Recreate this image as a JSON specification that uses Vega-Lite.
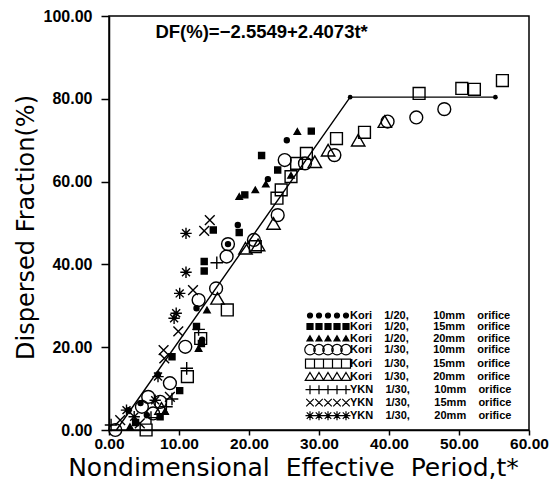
{
  "$schema": "https://vega.github.io/schema/vega-lite/v6.json",
  "width": 420,
  "height": 414,
  "autosize": {"type": "none"},
  "padding": {"left": 109, "top": 16, "right": 20, "bottom": 51},
  "background": "white",
  "config": {
    "view": {"stroke": "black", "strokeWidth": 1.5},
    "axis": {
      "domainColor": "black", "domainWidth": 1.5, "tickColor": "black", "tickWidth": 1.5,
      "grid": false, "labelFont": "Liberation Sans", "labelFontWeight": "bold", "labelFontSize": 16,
      "labelColor": "black", "titleFont": "DejaVu Sans", "titleFontWeight": "normal", "titleColor": "black",
      "labelOverlap": false
    },
    "legend": {
      "orient": "none", "legendX": 231, "legendY": 293.5, "padding": 0,
      "symbolSize": 100, "symbolStrokeWidth": 1.2, "symbolStrokeColor": "black", "symbolOpacity": 1,
      "labelFont": "Liberation Sans", "labelFontWeight": "bold", "labelFontSize": 11,
      "labelColor": "black", "labelLimit": 400, "labelOffset": -2, "rowPadding": -1.8
    }
  },
  "datasets": {
    "pts": [
      {"s": "Kori 1/20, 10mm orifice", "t": 25.4, "df": 70.0},
      {"s": "Kori 1/20, 10mm orifice", "t": 22.7, "df": 60.6},
      {"s": "Kori 1/20, 10mm orifice", "t": 18.4, "df": 49.5},
      {"s": "Kori 1/20, 10mm orifice", "t": 17.0, "df": 44.9},
      {"s": "Kori 1/20, 10mm orifice", "t": 12.5, "df": 29.4},
      {"s": "Kori 1/20, 10mm orifice", "t": 13.3, "df": 21.8},
      {"s": "Kori 1/20, 10mm orifice", "t": 7.0, "df": 13.4},
      {"s": "Kori 1/20, 10mm orifice", "t": 5.4, "df": 3.6},
      {"s": "Kori 1/20, 10mm orifice", "t": 2.8, "df": 4.8},
      {"s": "Kori 1/20, 10mm orifice", "t": 4.5, "df": 6.5},
      {"s": "Kori 1/20, 15mm orifice", "t": 21.8, "df": 66.3},
      {"s": "Kori 1/20, 15mm orifice", "t": 28.9, "df": 72.2},
      {"s": "Kori 1/20, 15mm orifice", "t": 24.1, "df": 62.8},
      {"s": "Kori 1/20, 15mm orifice", "t": 19.4, "df": 56.8},
      {"s": "Kori 1/20, 15mm orifice", "t": 14.9, "df": 48.3},
      {"s": "Kori 1/20, 15mm orifice", "t": 18.6, "df": 47.7},
      {"s": "Kori 1/20, 15mm orifice", "t": 13.6, "df": 40.7},
      {"s": "Kori 1/20, 15mm orifice", "t": 13.6, "df": 38.4},
      {"s": "Kori 1/20, 15mm orifice", "t": 12.5, "df": 25.0},
      {"s": "Kori 1/20, 15mm orifice", "t": 13.2, "df": 20.9},
      {"s": "Kori 1/20, 15mm orifice", "t": 9.0, "df": 17.7},
      {"s": "Kori 1/20, 15mm orifice", "t": 10.1, "df": 9.5},
      {"s": "Kori 1/20, 15mm orifice", "t": 7.3, "df": 3.2},
      {"s": "Kori 1/20, 15mm orifice", "t": 3.8, "df": 1.8},
      {"s": "Kori 1/20, 20mm orifice", "t": 26.9, "df": 72.1},
      {"s": "Kori 1/20, 20mm orifice", "t": 22.4, "df": 59.4},
      {"s": "Kori 1/20, 20mm orifice", "t": 20.9, "df": 58.0},
      {"s": "Kori 1/20, 20mm orifice", "t": 18.6, "df": 56.4},
      {"s": "Kori 1/20, 20mm orifice", "t": 26.0, "df": 61.5},
      {"s": "Kori 1/20, 20mm orifice", "t": 14.0, "df": 29.0},
      {"s": "Kori 1/20, 20mm orifice", "t": 12.8, "df": 19.7},
      {"s": "Kori 1/20, 20mm orifice", "t": 3.0, "df": 0.8},
      {"s": "Kori 1/20, 20mm orifice", "t": 8.0, "df": 4.5},
      {"s": "Kori 1/30, 10mm orifice", "t": 25.1, "df": 65.2},
      {"s": "Kori 1/30, 10mm orifice", "t": 28.0, "df": 64.4},
      {"s": "Kori 1/30, 10mm orifice", "t": 32.2, "df": 66.4},
      {"s": "Kori 1/30, 10mm orifice", "t": 39.8, "df": 74.5},
      {"s": "Kori 1/30, 10mm orifice", "t": 43.9, "df": 75.5},
      {"s": "Kori 1/30, 10mm orifice", "t": 47.9, "df": 77.5},
      {"s": "Kori 1/30, 10mm orifice", "t": 24.1, "df": 51.9},
      {"s": "Kori 1/30, 10mm orifice", "t": 20.7, "df": 45.9},
      {"s": "Kori 1/30, 10mm orifice", "t": 17.0, "df": 44.9},
      {"s": "Kori 1/30, 10mm orifice", "t": 16.8, "df": 41.9},
      {"s": "Kori 1/30, 10mm orifice", "t": 15.3, "df": 34.2},
      {"s": "Kori 1/30, 10mm orifice", "t": 12.8, "df": 31.4},
      {"s": "Kori 1/30, 10mm orifice", "t": 10.9, "df": 20.1},
      {"s": "Kori 1/30, 10mm orifice", "t": 8.7, "df": 11.3},
      {"s": "Kori 1/30, 10mm orifice", "t": 5.6, "df": 8.0},
      {"s": "Kori 1/30, 10mm orifice", "t": 4.7, "df": 5.6},
      {"s": "Kori 1/30, 10mm orifice", "t": 7.3, "df": 6.8},
      {"s": "Kori 1/30, 10mm orifice", "t": 6.3, "df": 4.0},
      {"s": "Kori 1/30, 10mm orifice", "t": 0.9, "df": 0.0},
      {"s": "Kori 1/30, 15mm orifice", "t": 26.8, "df": 64.4},
      {"s": "Kori 1/30, 15mm orifice", "t": 28.2, "df": 66.8},
      {"s": "Kori 1/30, 15mm orifice", "t": 32.5, "df": 70.4},
      {"s": "Kori 1/30, 15mm orifice", "t": 36.5, "df": 71.9},
      {"s": "Kori 1/30, 15mm orifice", "t": 44.3, "df": 81.3},
      {"s": "Kori 1/30, 15mm orifice", "t": 50.4, "df": 82.5},
      {"s": "Kori 1/30, 15mm orifice", "t": 52.2, "df": 82.3},
      {"s": "Kori 1/30, 15mm orifice", "t": 56.2, "df": 84.4},
      {"s": "Kori 1/30, 15mm orifice", "t": 26.0, "df": 61.2},
      {"s": "Kori 1/30, 15mm orifice", "t": 24.6, "df": 58.0},
      {"s": "Kori 1/30, 15mm orifice", "t": 24.0, "df": 56.0},
      {"s": "Kori 1/30, 15mm orifice", "t": 20.9, "df": 44.3},
      {"s": "Kori 1/30, 15mm orifice", "t": 16.9, "df": 29.0},
      {"s": "Kori 1/30, 15mm orifice", "t": 13.1, "df": 22.1},
      {"s": "Kori 1/30, 15mm orifice", "t": 11.2, "df": 12.9},
      {"s": "Kori 1/30, 15mm orifice", "t": 5.3, "df": 0.0},
      {"s": "Kori 1/30, 20mm orifice", "t": 29.4, "df": 64.8},
      {"s": "Kori 1/30, 20mm orifice", "t": 31.3, "df": 67.6},
      {"s": "Kori 1/30, 20mm orifice", "t": 35.6, "df": 70.0},
      {"s": "Kori 1/30, 20mm orifice", "t": 39.4, "df": 74.5},
      {"s": "Kori 1/30, 20mm orifice", "t": 23.5, "df": 49.9},
      {"s": "Kori 1/30, 20mm orifice", "t": 21.3, "df": 44.7},
      {"s": "Kori 1/30, 20mm orifice", "t": 19.5, "df": 43.9},
      {"s": "Kori 1/30, 20mm orifice", "t": 15.5, "df": 31.8},
      {"s": "Kori 1/30, 20mm orifice", "t": 7.5, "df": 5.2},
      {"s": "YKN 1/30, 10mm orifice", "t": 15.4, "df": 40.4},
      {"s": "YKN 1/30, 10mm orifice", "t": 12.8, "df": 24.3},
      {"s": "YKN 1/30, 10mm orifice", "t": 11.1, "df": 14.9},
      {"s": "YKN 1/30, 10mm orifice", "t": 0.3, "df": 1.2},
      {"s": "YKN 1/30, 10mm orifice", "t": 8.2, "df": 5.6},
      {"s": "YKN 1/30, 10mm orifice", "t": 6.0, "df": 3.0},
      {"s": "YKN 1/30, 10mm orifice", "t": 9.0, "df": 7.5},
      {"s": "YKN 1/30, 15mm orifice", "t": 14.4, "df": 50.7},
      {"s": "YKN 1/30, 15mm orifice", "t": 13.6, "df": 48.1},
      {"s": "YKN 1/30, 15mm orifice", "t": 12.0, "df": 33.8},
      {"s": "YKN 1/30, 15mm orifice", "t": 9.9, "df": 23.8},
      {"s": "YKN 1/30, 15mm orifice", "t": 7.8, "df": 19.3},
      {"s": "YKN 1/30, 15mm orifice", "t": 7.9, "df": 17.3},
      {"s": "YKN 1/30, 15mm orifice", "t": 1.6, "df": 2.4},
      {"s": "YKN 1/30, 15mm orifice", "t": 4.4, "df": 1.6},
      {"s": "YKN 1/30, 15mm orifice", "t": 8.7, "df": 8.0},
      {"s": "YKN 1/30, 20mm orifice", "t": 11.0, "df": 47.5},
      {"s": "YKN 1/30, 20mm orifice", "t": 11.0, "df": 38.1},
      {"s": "YKN 1/30, 20mm orifice", "t": 10.1, "df": 33.0},
      {"s": "YKN 1/30, 20mm orifice", "t": 9.6, "df": 28.2},
      {"s": "YKN 1/30, 20mm orifice", "t": 9.3, "df": 27.0},
      {"s": "YKN 1/30, 20mm orifice", "t": 7.0, "df": 12.9},
      {"s": "YKN 1/30, 20mm orifice", "t": 2.5, "df": 4.8},
      {"s": "YKN 1/30, 20mm orifice", "t": 6.6, "df": 7.2},
      {"s": "YKN 1/30, 20mm orifice", "t": 3.6, "df": 3.2}
    ],
    "fit": [
      {"t": 1.06, "df": 0},
      {"t": 34.45, "df": 80.4},
      {"t": 55.2, "df": 80.4}
    ],
    "ends": [
      {"t": 34.45, "df": 80.4},
      {"t": 55.2, "df": 80.4}
    ],
    "eq": [
      {"t": 21.8, "df": 94.7, "label": "DF(%)=−2.5549+2.4073t*"}
    ]
  },
  "layer": [
    {
      "data": {"name": "fit"},
      "mark": {"type": "line", "color": "black", "strokeWidth": 1.4},
      "encoding": {
        "x": {
          "field": "t", "type": "quantitative",
          "scale": {"domain": [0, 60], "nice": false, "zero": false},
          "axis": {
            "values": [0, 10, 20, 30, 40, 50, 60], "format": ".2f", "tickSize": 5, "labelPadding": 1,
            "labelFlush": false, "labelFontSize": 15.5,
            "title": "Nondimensional\u00a0\u00a0Effective\u00a0\u00a0Period,t*", "titleFontSize": 25,
            "titleX": 184, "titleY": 45, "titleBaseline": "alphabetic", "titleAlign": "center"
          }
        },
        "y": {
          "field": "df", "type": "quantitative",
          "scale": {"domain": [0, 100], "nice": false, "zero": false},
          "axis": {
            "values": [0, 20, 40, 60, 80, 100], "format": ".2f", "tickSize": 8, "labelPadding": 9,
            "title": "Dispersed Fraction(%)", "titleFontSize": 24, "titleAngle": -90,
            "titleX": -76, "titleY": 211, "titleBaseline": "alphabetic", "titleAlign": "center"
          }
        }
      }
    },
    {
      "data": {"name": "ends"},
      "mark": {"type": "point", "filled": true, "color": "black", "size": 22, "opacity": 1},
      "encoding": {
        "x": {"field": "t", "type": "quantitative"},
        "y": {"field": "df", "type": "quantitative"}
      }
    },
    {
      "data": {"name": "pts"},
      "mark": {"type": "point", "stroke": "black", "strokeWidth": 1.4, "opacity": 1},
      "encoding": {
        "x": {"field": "t", "type": "quantitative"},
        "y": {"field": "df", "type": "quantitative"},
        "shape": {
          "condition": [
            {"test": "datum.s === 'Kori 1/20, 10mm orifice' || datum.s === 'Kori 1/30, 10mm orifice'", "value": "circle"},
            {"test": "datum.s === 'Kori 1/20, 15mm orifice' || datum.s === 'Kori 1/30, 15mm orifice'", "value": "square"},
            {"test": "datum.s === 'Kori 1/20, 20mm orifice' || datum.s === 'Kori 1/30, 20mm orifice'", "value": "triangle-up"},
            {"test": "datum.s === 'YKN 1/30, 10mm orifice'", "value": "M-1,0L1,0M0,-1L0,1"},
            {"test": "datum.s === 'YKN 1/30, 15mm orifice'", "value": "M-1,-1L1,1M-1,1L1,-1"}
          ],
          "value": "M0,-1L0,1M-1,0L1,0M-0.7,-0.7L0.7,0.7M-0.7,0.7L0.7,-0.7"
        },
        "fill": {
          "condition": {"test": "datum.s === 'Kori 1/20, 10mm orifice' || datum.s === 'Kori 1/20, 15mm orifice' || datum.s === 'Kori 1/20, 20mm orifice'", "value": "black"},
          "value": "transparent"
        },
        "size": {
          "condition": [
            {"test": "datum.s === 'Kori 1/20, 10mm orifice'", "value": 25},
            {"test": "datum.s === 'Kori 1/20, 15mm orifice'", "value": 36},
            {"test": "datum.s === 'Kori 1/20, 20mm orifice'", "value": 40},
            {"test": "datum.s === 'Kori 1/30, 10mm orifice'", "value": 165},
            {"test": "datum.s === 'Kori 1/30, 15mm orifice'", "value": 140},
            {"test": "datum.s === 'Kori 1/30, 20mm orifice'", "value": 180},
            {"test": "datum.s === 'YKN 1/30, 10mm orifice'", "value": 160},
            {"test": "datum.s === 'YKN 1/30, 15mm orifice'", "value": 95}
          ],
          "value": 130
        }
      }
    },
    {
      "data": {"name": "pts"},
      "transform": [{"filter": "false"}],
      "mark": {"type": "point", "strokeWidth": 1.2, "opacity": 1},
      "encoding": {
        "x": {"field": "t", "type": "quantitative"},
        "y": {"field": "df", "type": "quantitative"},
        "shape": {
          "field": "s", "type": "nominal",
          "scale": {
            "domain": ["Kori 1/20, 10mm orifice", "Kori 1/20, 15mm orifice", "Kori 1/20, 20mm orifice", "Kori 1/30, 10mm orifice", "Kori 1/30, 15mm orifice", "Kori 1/30, 20mm orifice", "YKN 1/30, 10mm orifice", "YKN 1/30, 15mm orifice", "YKN 1/30, 20mm orifice"],
            "range": [
              "M0.5,0A0.5,0.5,0,1,1,-0.5,0A0.5,0.5,0,1,1,0.5,0ZM-1.3,0A0.5,0.5,0,1,1,-2.3,0A0.5,0.5,0,1,1,-1.3,0ZM-3.1,0A0.5,0.5,0,1,1,-4.1,0A0.5,0.5,0,1,1,-3.1,0ZM-4.9,0A0.5,0.5,0,1,1,-5.9,0A0.5,0.5,0,1,1,-4.9,0ZM-6.7,0A0.5,0.5,0,1,1,-7.7,0A0.5,0.5,0,1,1,-6.7,0Z",
              "M-0.6,-0.6h1.2v1.2h-1.2ZM-2.4,-0.6h1.2v1.2h-1.2ZM-4.2,-0.6h1.2v1.2h-1.2ZM-6,-0.6h1.2v1.2h-1.2ZM-7.8,-0.6h1.2v1.2h-1.2Z",
              "M0,-0.55L0.6,0.5L-0.6,0.5ZM-1.8,-0.55L-1.2,0.5L-2.4,0.5ZM-3.6,-0.55L-3,0.5L-4.2,0.5ZM-5.4,-0.55L-4.8,0.5L-6,0.5ZM-7.2,-0.55L-6.6,0.5L-7.8,0.5Z",
              "M1.05,0A1.05,1.05,0,1,1,-1.05,0A1.05,1.05,0,1,1,1.05,0ZM-0.75,0A1.05,1.05,0,1,1,-2.85,0A1.05,1.05,0,1,1,-0.75,0ZM-2.55,0A1.05,1.05,0,1,1,-4.65,0A1.05,1.05,0,1,1,-2.55,0ZM-4.35,0A1.05,1.05,0,1,1,-6.45,0A1.05,1.05,0,1,1,-4.35,0ZM-6.15,0A1.05,1.05,0,1,1,-8.25,0A1.05,1.05,0,1,1,-6.15,0Z",
              "M-0.9,-0.9h1.8v1.8h-1.8ZM-2.7,-0.9h1.8v1.8h-1.8ZM-4.5,-0.9h1.8v1.8h-1.8ZM-6.3,-0.9h1.8v1.8h-1.8ZM-8.1,-0.9h1.8v1.8h-1.8Z",
              "M0,-0.85L0.95,0.75L-0.95,0.75ZM-1.8,-0.85L-0.85,0.75L-2.75,0.75ZM-3.6,-0.85L-2.65,0.75L-4.55,0.75ZM-5.4,-0.85L-4.45,0.75L-6.35,0.75ZM-7.2,-0.85L-6.25,0.75L-8.15,0.75Z",
              "M-8.1,0L0.9,0M0,-0.9L0,0.9M-1.8,-0.9L-1.8,0.9M-3.6,-0.9L-3.6,0.9M-5.4,-0.9L-5.4,0.9M-7.2,-0.9L-7.2,0.9",
              "M-0.75,-0.75L0.75,0.75M-0.75,0.75L0.75,-0.75M-2.55,-0.75L-1.05,0.75M-2.55,0.75L-1.05,-0.75M-4.35,-0.75L-2.85,0.75M-4.35,0.75L-2.85,-0.75M-6.15,-0.75L-4.65,0.75M-6.15,0.75L-4.65,-0.75M-7.95,-0.75L-6.45,0.75M-7.95,0.75L-6.45,-0.75",
              "M-8.1,0L0.9,0M0,-0.9L0,0.9M-0.65,-0.65L0.65,0.65M-0.65,0.65L0.65,-0.65M-1.8,-0.9L-1.8,0.9M-2.45,-0.65L-1.15,0.65M-2.45,0.65L-1.15,-0.65M-3.6,-0.9L-3.6,0.9M-4.25,-0.65L-2.95,0.65M-4.25,0.65L-2.95,-0.65M-5.4,-0.9L-5.4,0.9M-6.05,-0.65L-4.75,0.65M-6.05,0.65L-4.75,-0.65M-7.2,-0.9L-7.2,0.9M-7.85,-0.65L-6.55,0.65M-7.85,0.65L-6.55,-0.65"
            ]
          },
          "legend": {
            "title": null,
            "labelExpr": "split(datum.label,' ')[0] + '\u00a0\u00a0\u00a0\u00a0' + split(datum.label,' ')[1] + '\u00a0\u00a0\u00a0\u00a0\u00a0\u00a0\u00a0\u00a0' + split(datum.label,' ')[2] + '\u00a0\u00a0\u00a0\u00a0' + split(datum.label,' ')[3]"
          }
        },
        "fill": {
          "field": "s", "type": "nominal",
          "scale": {
            "domain": ["Kori 1/20, 10mm orifice", "Kori 1/20, 15mm orifice", "Kori 1/20, 20mm orifice", "Kori 1/30, 10mm orifice", "Kori 1/30, 15mm orifice", "Kori 1/30, 20mm orifice", "YKN 1/30, 10mm orifice", "YKN 1/30, 15mm orifice", "YKN 1/30, 20mm orifice"],
            "range": ["black", "black", "black", "transparent", "transparent", "transparent", "transparent", "transparent", "transparent"]
          },
          "legend": {
            "title": null,
            "labelExpr": "split(datum.label,' ')[0] + '\u00a0\u00a0\u00a0\u00a0' + split(datum.label,' ')[1] + '\u00a0\u00a0\u00a0\u00a0\u00a0\u00a0\u00a0\u00a0' + split(datum.label,' ')[2] + '\u00a0\u00a0\u00a0\u00a0' + split(datum.label,' ')[3]"
          }
        },
        "stroke": {
          "field": "s", "type": "nominal",
          "scale": {
            "domain": ["Kori 1/20, 10mm orifice", "Kori 1/20, 15mm orifice", "Kori 1/20, 20mm orifice", "Kori 1/30, 10mm orifice", "Kori 1/30, 15mm orifice", "Kori 1/30, 20mm orifice", "YKN 1/30, 10mm orifice", "YKN 1/30, 15mm orifice", "YKN 1/30, 20mm orifice"],
            "range": ["black", "black", "black", "black", "black", "black", "black", "black", "black"]
          },
          "legend": {
            "title": null,
            "labelExpr": "split(datum.label,' ')[0] + '\u00a0\u00a0\u00a0\u00a0' + split(datum.label,' ')[1] + '\u00a0\u00a0\u00a0\u00a0\u00a0\u00a0\u00a0\u00a0' + split(datum.label,' ')[2] + '\u00a0\u00a0\u00a0\u00a0' + split(datum.label,' ')[3]"
          }
        }
      }
    },
    {
      "data": {"name": "eq"},
      "mark": {"type": "text", "font": "Liberation Sans", "fontWeight": "bold", "fontSize": 18.5, "color": "black", "align": "center", "baseline": "alphabetic"},
      "encoding": {
        "x": {"field": "t", "type": "quantitative"},
        "y": {"field": "df", "type": "quantitative"},
        "text": {"field": "label"}
      }
    }
  ]
}
